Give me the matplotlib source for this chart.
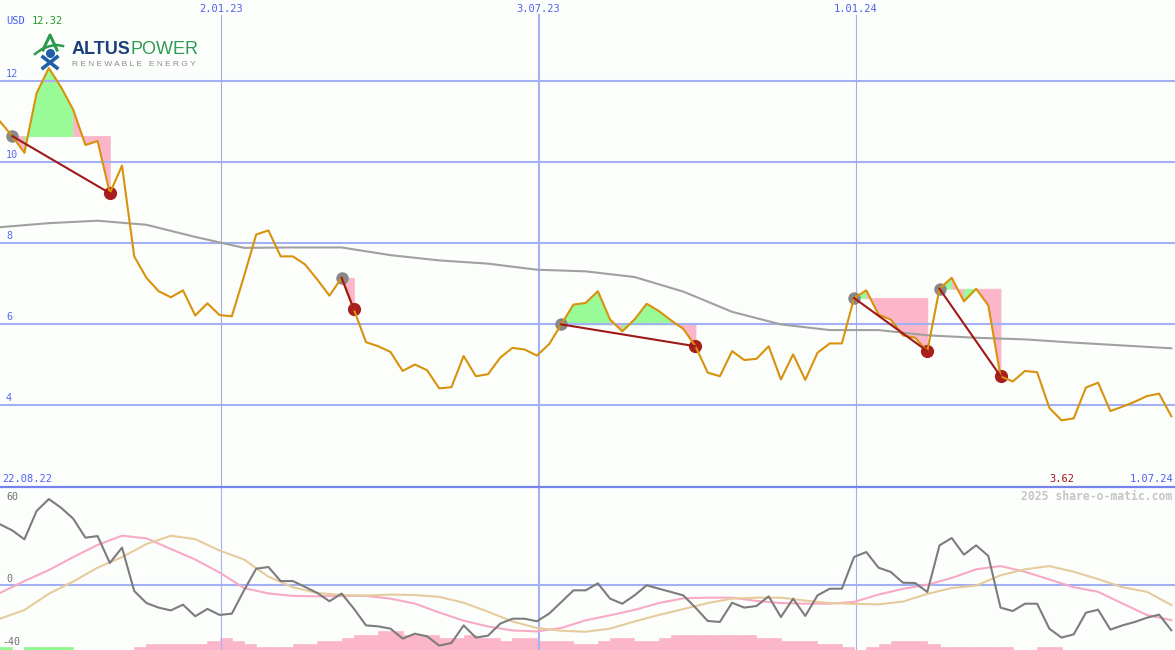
import matplotlib.pyplot as plt
from matplotlib.lines import Line2D
import pandas as pd

W, H = 1175, 650
BG = "#fcfefc"
GRID = "#a4b0f4"
MONO = "DejaVu Sans Mono"
GREEN_FILL = "#98fb98"
PINK_FILL = "#fbb6ca"

# weekly closes (USD), one per week
price = [11.00, 10.64, 10.23, 11.70, 12.32, 11.85, 11.29, 10.42, 10.52, 9.23,
         9.91, 7.67, 7.14, 6.81, 6.66, 6.83, 6.21, 6.51, 6.22, 6.19,
         7.18, 8.21, 8.31, 7.67, 7.67, 7.47, 7.10, 6.70, 7.14, 6.36,
         5.55, 5.45, 5.31, 4.84, 5.00, 4.86, 4.41, 4.44, 5.21, 4.71,
         4.76, 5.17, 5.41, 5.37, 5.22, 5.50, 5.99, 6.48, 6.52, 6.81,
         6.11, 5.82, 6.11, 6.50, 6.32, 6.09, 5.88, 5.45, 4.80, 4.71,
         5.33, 5.11, 5.14, 5.45, 4.63, 5.25, 4.62, 5.29, 5.52, 5.52,
         6.64, 6.83, 6.23, 6.11, 5.72, 5.66, 5.33, 6.87, 7.14, 6.56,
         6.87, 6.46, 4.71, 4.58, 4.84, 4.81, 3.93, 3.62, 3.67, 4.43,
         4.55, 3.85, 3.96, 4.08, 4.22, 4.28, 3.72]
weeks = list(range(len(price)))

# long moving average, read every 4 weeks
ma_weeks = [0, 4, 8, 12, 16, 20, 24, 28, 32, 36, 40, 44, 48,
            52, 56, 60, 64, 68, 72, 76, 80, 84, 88, 92, 96]
ma = [8.39, 8.49, 8.55, 8.45, 8.15, 7.88, 7.89, 7.89, 7.70, 7.57, 7.49, 7.34, 7.30,
      7.16, 6.80, 6.30, 5.99, 5.85, 5.85, 5.72, 5.66, 5.62, 5.54, 5.47, 5.40]

# (entry week, exit week)
trades = [(1, 9), (28, 29), (46, 57), (70, 76), (77, 82)]

start = pd.Timestamp("2022-08-28")
grid_dates = ["2023-01-02", "2023-07-03", "2024-01-01"]
grid_labels = ["2.01.23", "3.07.23", "1.01.24"]
grid_wide = [False, True, False]
first_label = "22.08.22"
last_label = "1.07.24"

# lower indicator panel
roc = [37.1, 33.4, 27.9, 45.3, 52.6, 47.3, 40.6, 28.9, 29.9, 13.4,
       22.8, -3.8, -11.2, -14.0, -15.7, -12.2, -19.3, -14.8, -18.5, -17.7,
       -3.4, 9.9, 10.9, 2.3, 2.3, -1.3, -5.0, -10.1, -5.4, -14.6,
       -24.9, -25.5, -26.9, -33.0, -30.0, -31.6, -37.3, -35.7, -24.9, -32.4,
       -31.2, -23.8, -20.8, -20.8, -22.4, -17.7, -10.6, -3.4, -3.4, 0.9,
       -8.5, -11.6, -6.5, -0.3, -2.4, -4.4, -6.5, -14.0, -22.2, -22.8,
       -11.0, -14.0, -13.0, -7.1, -19.8, -8.5, -19.1, -6.5, -2.4, -2.4,
       17.1, 20.1, 10.5, 7.9, 1.3, 1.1, -4.4, 24.2, 28.7, 18.5,
       24.2, 17.7, -14.0, -16.1, -11.6, -11.6, -26.9, -32.4, -30.4, -17.1,
       -15.3, -27.5, -24.9, -22.8, -20.2, -18.3, -27.9]
ind_weeks = [0, 2, 4, 6, 8, 10, 12, 14, 16, 18, 20, 22, 24, 26, 28, 30, 32,
             34, 36, 38, 40, 42, 44, 46, 48, 50, 52, 54, 56, 58, 60, 62, 64,
             66, 68, 70, 72, 74, 76, 78, 80, 82, 84, 86, 88, 90, 92, 94, 96]
roc_fast = [-5.0, 2.3, 9.0, 17.0, 24.5, 30.1, 28.5, 22.0, 15.5, 7.5, -2.0, -5.3, -6.8,
            -7.1, -6.8, -6.8, -8.5, -11.5, -17.0, -22.0, -25.6, -28.0, -28.6, -26.5,
            -21.8, -18.7, -15.4, -11.2, -8.3, -7.9, -7.9, -9.9, -11.2, -11.6, -11.6,
            -10.5, -6.0, -2.5, 0.0, 4.2, 9.5, 11.5, 8.0, 3.3, -1.5, -4.3, -11.5,
            -18.5, -21.7]
roc_slow = [-20.8, -15.5, -5.5, 2.0, 10.5, 17.0, 25.0, 30.1, 28.0, 21.0, 15.5, 5.0, -1.5,
            -5.0, -6.3, -6.6, -6.0, -6.3, -7.4, -11.0, -16.5, -22.5, -26.5, -28.2,
            -28.8, -26.9, -22.5, -18.5, -14.9, -11.2, -8.5, -7.9, -7.9, -9.7, -11.2,
            -11.7, -12.0, -10.3, -5.6, -2.0, -0.5, 5.8, 9.5, 11.5, 8.0, 3.5, -1.5,
            -4.3, -12.4]
bar_pink = [0, 0, 0, 0, 0, 0, 0, 0, 0, 0,
            0, 1.8, 3.8, 3.8, 3.8, 3.8, 3.8, 5.5, 7.4, 5.5,
            3.8, 1.8, 1.8, 1.8, 3.8, 3.8, 5.5, 5.5, 7.4, 9.4,
            9.4, 11.7, 11.7, 9.4, 9.4, 9.4, 7.4, 7.4, 9.4, 7.4,
            7.4, 5.5, 7.4, 7.4, 5.5, 5.5, 5.5, 3.8, 3.8, 5.5,
            7.4, 7.4, 5.5, 5.5, 7.4, 9.4, 9.4, 9.4, 9.4, 9.4,
            9.4, 9.4, 7.4, 7.4, 5.5, 5.5, 5.5, 3.8, 3.8, 1.8,
            0, 1.8, 3.8, 5.5, 5.5, 5.5, 3.8, 1.8, 1.8, 1.8,
            1.8, 1.8, 1.8, 0, 0, 1.8, 1.8, 0, 0, 0,
            0, 0, 0, 0, 0, 0, 0]
green_weeks = [0, 2, 3, 4, 5]
bar_green = [1.8, 1.8, 1.8, 1.8, 1.8]


def ftext(x, y, s, **kw):
    fig.text(x / W, 1 - y / H, s, **kw)


def fline(xs, ys, **kw):
    fig.add_artist(Line2D([x / W for x in xs], [1 - y / H for y in ys],
                          transform=fig.transFigure, **kw))


fig = plt.figure(figsize=(W / 100, H / 100), dpi=100, facecolor=BG)
grid_k = [(pd.Timestamp(d) - start).days / 7 for d in grid_dates]
xmax = 96.3

# ---- price panel
ax1 = fig.add_axes([0, 163 / H, 1, 487 / H])
ax1.set_xlim(0, xmax)
ax1.set_ylim(1.975, 14.0)
ax1.set_axis_off()

for v in [4, 6, 8, 10, 12]:
    ax1.axhline(v, color=GRID, lw=1.5, zorder=2)
    ax1.annotate(str(v), (6 / W, v), xycoords=("axes fraction", "data"),
                 xytext=(0, 2), textcoords="offset pixels", va="bottom",
                 color="#5a6af0", fontsize=7.3, family=MONO)
for k, lab, wide in zip(grid_k, grid_labels, grid_wide):
    ax1.axvline(k, ymax=(487 - 15) / 487, color=GRID if wide else "#a8acdc",
                lw=1.5 if wide else 0.8, zorder=2)
    ax1.annotate(lab, (k, 1), xycoords=("data", "axes fraction"),
                 xytext=(0, -8.5), textcoords="offset pixels", ha="center",
                 va="center", color="#5060f0", fontsize=7.5, family=MONO)

# gain / loss areas while in a trade
for a, b in trades:
    level = price[a]
    for i in range(a, b):
        col = GREEN_FILL if price[i + 1] >= level else PINK_FILL
        ax1.fill_between([i, i + 1], [price[i], price[i + 1]], level,
                         facecolor=col, edgecolor=col, lw=0.6, zorder=1)

ax1.plot(ma_weeks, ma, color="#a0a0a0", lw=1.5, zorder=3)
for a, b in trades:
    ax1.plot([a], [price[a]], "o", ms=9, color="#888888", mec="none", zorder=3.5)
    ax1.plot([b], [price[b]], "o", ms=9.5, color="#a81e1e", mec="none", zorder=3.5)
ax1.plot(weeks, price, color="#d8920c", lw=1.5, zorder=4)
for a, b in trades:
    ax1.plot([a, b], [price[a], price[b]], color="#a01818", lw=1.5, zorder=5)

# ---- indicator panel
ax2 = fig.add_axes([0, 0, 1, 163 / H])
ax2.set_xlim(0, xmax)
ax2.set_ylim(-40, 60)
ax2.set_axis_off()
ax2.axhline(0, color=GRID, lw=1.5, zorder=2)
for k, wide in zip(grid_k, grid_wide):
    ax2.axvline(k, color=GRID, lw=1.5 if wide else 0.8, zorder=2)
ax2.bar([w + 0.5 for w in weeks], bar_pink, width=1, bottom=-40,
        color=PINK_FILL, edgecolor=PINK_FILL, lw=0.5, zorder=1)
ax2.bar([w + 0.5 for w in green_weeks], bar_green, width=1, bottom=-40,
        color="#90f890", edgecolor="#90f890", lw=0.5, zorder=1)
ax2.plot(ind_weeks, roc_fast, color="#f8aac4", lw=1.5, zorder=3)
ax2.plot(ind_weeks, roc_slow, color="#e6cc9c", lw=1.5, zorder=3)
ax2.plot(weeks, roc, color="#7c7c7c", lw=1.5, zorder=4)

# separator
fig.add_artist(Line2D([0, 1], [163 / H, 163 / H], color="#7484ec", lw=1.6,
                      transform=fig.transFigure))

# ---- texts
ftext(6, 21, "USD", color="#4a5cf0", fontsize=7.5, family=MONO, va="center")
ftext(32, 21, f"{max(price):.2f}", color="#2a9a2a", fontsize=7.5, family=MONO, va="center")
ftext(2, 479, first_label, color="#5060f0", fontsize=7.5, family=MONO, va="center")
ftext(1173, 479, last_label, color="#5060f0", fontsize=7.5, family=MONO,
      va="center", ha="right")
kmin = price.index(min(price))
ax1.annotate(f"{min(price):.2f}", (kmin, 0), xycoords=("data", "axes fraction"),
             xytext=(0, 8), textcoords="offset pixels", ha="center", va="center",
             color="#a01818", fontsize=7.5, family=MONO)
ftext(1172, 496, "2025 share-o-matic.com", color="#c6c6c6", fontsize=8.3,
      family=MONO, weight="bold", va="center", ha="right")
ftext(6, 496.5, "60", color="#707070", fontsize=7.2, family=MONO, va="center")
ftext(6, 578.5, "0", color="#707070", fontsize=7.2, family=MONO, va="center")
ftext(2, 642, "-40", color="#707070", fontsize=7.2, family=MONO, va="center")

# ---- logo
ftext(72, 54, "ALTUS", fontsize=13, weight="bold", color="#1c3f7c",
      family="Liberation Sans", va="baseline")
ftext(131, 54, "POWER", fontsize=13, color="#2f9a52",
      family="Liberation Sans", va="baseline")
ftext(72, 66, "R E N E W A B L E   E N E R G Y", fontsize=6, color="#8c8c8c",
      family="Liberation Sans", va="baseline")
fline([43, 50, 57], [50, 35, 50], color="#2e9a4e", lw=2.2)
fline([35, 42, 50, 57, 63], [54, 49, 46, 45, 46], color="#2e9a4e", lw=1.8)
fline([50], [53], marker="o", ms=5.5, color="#1f5fa8", lw=0)
fline([43, 57], [68, 57], color="#1f5fa8", lw=2.6)
fline([43, 57], [57, 68], color="#1f5fa8", lw=2.6)

fig.savefig("out.png", dpi=100, facecolor=BG)
